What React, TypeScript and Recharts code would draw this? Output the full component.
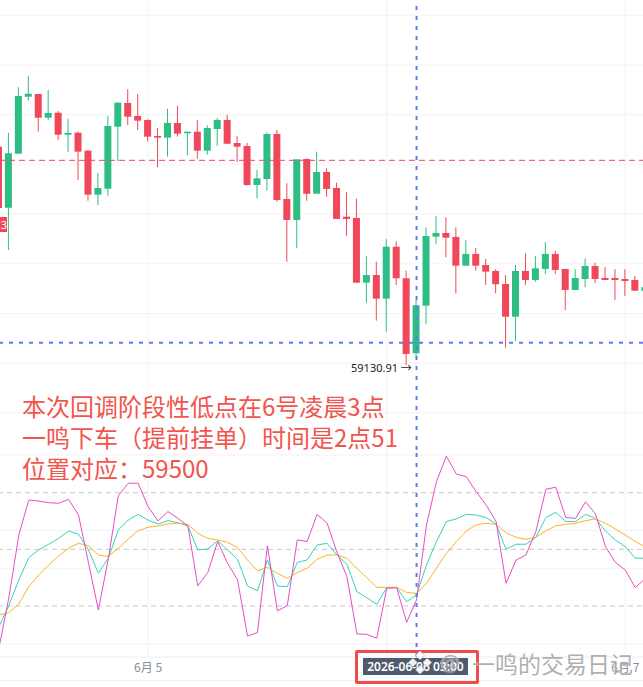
import {
  Bar,
  CartesianGrid,
  ComposedChart,
  Line,
  LineChart,
  ReferenceLine,
  XAxis,
  YAxis,
} from "recharts";

// hourly candles, index 15 = 6月5 00:00
const opens = [
  61328, 60714, 61258, 61831, 61858, 61620, 61670, 61449, 61469, 61288,
  60845, 60906, 61529, 61768, 61637, 61597, 61436, 61419, 61567, 61463,
  61479, 61288, 61506, 61597, 61365, 61335, 60943, 61003, 61456, 60802,
  60591, 61204, 60855, 61074, 60913, 60624, 60611, 59960, 60037, 59799,
  60322, 60004, 59250, 59729, 60423, 60460, 60420, 60131, 60249, 60138,
  60078, 59947, 59618, 60078, 59987, 60098, 60249, 60098, 59887, 59997,
  60128, 60007, 60007, 59997, 59987, 59879,
];
const highs = [
  61328, 61469, 61926, 62039, 61858, 61899, 61687, 61607, 61479, 61295,
  61061, 61637, 61778, 61906, 61858, 61604, 61516, 61710, 61741, 61479,
  61594, 61543, 61617, 61647, 61436, 61368, 61094, 61473, 61496, 60960,
  61201, 61211, 61278, 61111, 60966, 60869, 60805, 60229, 60171, 60397,
  60376, 60081, 59793, 60517, 60631, 60618, 60517, 60390, 60309, 60198,
  60095, 60037, 60138, 60256, 60229, 60369, 60279, 60098, 60095, 60205,
  60161, 60118, 60095, 60095, 60027, 59914,
];
const lows = [
  60711, 60289, 61258, 61791, 61479, 61597, 61396, 61275, 60993, 60785,
  60739, 60835, 61184, 61546, 61496, 61382, 61121, 61228, 61429, 61242,
  61204, 61248, 61338, 61352, 61177, 60936, 60809, 60886, 60775, 60171,
  60306, 60785, 60855, 60825, 60601, 60430, 59960, 59759, 59578, 59467,
  59937, 59130.91, 59199, 59545, 60346, 60216, 59853, 60131, 60081, 59937,
  59853, 59306, 59373, 59937, 59970, 60048, 60048, 59685, 59887, 59914,
  59954, 59987, 59786, 59826, 59879, 59879,
];
const closes = [
  60711, 61262, 61838, 61861, 61620, 61667, 61449, 61466, 61278, 60845,
  60913, 61536, 61771, 61630, 61590, 61429, 61419, 61567, 61459, 61479,
  61288, 61516, 61597, 61358, 61328, 60943, 61010, 61456, 60792, 60591,
  61201, 60855, 61074, 60903, 60601, 60601, 59960, 60037, 59799, 60322,
  60004, 59243, 59733, 60430, 60460, 60413, 60131, 60249, 60131, 60071,
  59944, 59618, 60078, 59987, 60105, 60249, 60088, 59887, 60007, 60128,
  59997, 59987, 59987, 59977, 59879, 59914,
];

// KDJ
const kLine = [
  9.0, 20.3, 33.8, 45.6, 49.7, 52.7, 55.8, 59.7, 58.0, 49.7,
  37.4, 45.3, 60.2, 65.5, 68.5, 65.5, 63.4, 65.2, 64.1, 62.4,
  49.7, 50.2, 54.6, 49.7, 44.7, 30.6, 28.0, 44.4, 30.6, 30.2,
  43.1, 44.4, 52.3, 53.2, 47.0, 42.1, 27.6, 24.4, 20.9, 29.7,
  29.7, 22.3, 25.8, 41.7, 54.1, 64.7, 66.1, 68.5, 68.2, 66.8,
  63.4, 50.0, 52.7, 52.7, 56.4, 66.8, 69.6, 64.7, 64.7, 68.5,
  66.4, 59.7, 54.9, 51.4, 45.3, 45.3,
];
const dLine = [
  15.2, 16.5, 21.1, 30.2, 36.4, 41.7, 46.5, 50.6, 53.2, 52.0,
  47.0, 46.2, 50.6, 55.4, 59.9, 61.7, 62.4, 63.4, 63.8, 63.2,
  58.5, 55.8, 55.0, 53.7, 50.9, 44.4, 38.6, 40.5, 37.3, 34.7,
  37.7, 40.0, 44.7, 47.0, 47.0, 45.2, 39.9, 35.0, 29.9, 29.9,
  29.9, 27.2, 26.7, 32.0, 40.0, 47.9, 54.1, 59.7, 62.9, 63.8,
  63.2, 58.8, 56.4, 55.3, 56.4, 59.7, 62.5, 63.2, 63.8, 65.2,
  66.1, 63.8, 60.8, 57.6, 54.1, 51.4,
];
const jLine = [
  -2.2, 24.5, 57.6, 76.1, 75.6, 74.7, 74.4, 76.5, 68.2, 43.0,
  17.9, 45.0, 78.3, 85.0, 85.0, 72.6, 65.0, 70.0, 66.4, 62.4,
  30.6, 37.7, 54.1, 42.6, 33.8, 4.1, 5.9, 51.9, 17.4, 20.2,
  55.0, 54.1, 68.5, 63.9, 48.4, 35.5, 5.2, 5.0, 2.9, 29.4,
  29.7, 11.4, 23.2, 62.9, 85.8, 99.4, 89.9, 88.5, 80.5, 73.5,
  64.7, 32.0, 44.3, 47.0, 59.4, 81.8, 82.9, 66.9, 66.4, 75.2,
  68.7, 51.4, 43.1, 39.0, 29.7, 34.6,
];

const dayGrid = [15, 39, 63];
// 6月 6 sits under the crosshair time box
const dayTicks = [15, 63];
const dayLabels = ["6月 5", "6月 7"];
const priceGrid = [62650, 62150, 61650, 61150, 60650, 60150, 59650, 59150, 58650];
const kdjGrid = [0, 40, 60, 100];
const kdjLevels = [20, 50, 80];
const crossIndex = 42;
const crossPrice = 59356;
const redLinePrice = 61191;

const GREEN = "#2ebd85";
const RED = "#f0475a";
const BLUE = "#5b7cf5";
// chart is a bit wider than the page so the first / last candle get cut like the original
const CHART_LEFT = -10.64;
const CHART_W = 666.2;
const X_DOMAIN: [number, number] = [-1, 66];

const rows = opens.map((o, i) => ({
  i,
  open: o,
  high: highs[i],
  low: lows[i],
  close: closes[i],
  range: [lows[i], highs[i]],
  k: kLine[i],
  d: dLine[i],
  j: jLine[i],
}));

function Candle(props: any) {
  const { x, y, width, height, payload } = props;
  if (x == null || y == null) return null;
  const { open, close, high, low } = payload;
  const color = close >= open ? GREEN : RED;
  const ratio = height / (high - low || 1);
  const yOf = (v: number) => y + (high - v) * ratio;
  const cx = x + width / 2;
  const top = yOf(Math.max(open, close));
  const bottom = yOf(Math.min(open, close));
  return (
    <g>
      <line x1={cx} x2={cx} y1={y} y2={y + height} stroke={color} strokeWidth={1} />
      <rect x={x} y={top} width={width} height={Math.max(1, bottom - top)} fill={color} />
    </g>
  );
}

export default function App() {
  return (
    <div
      style={{
        position: "fixed",
        left: 0,
        top: 0,
        width: 643,
        height: 687,
        overflow: "hidden",
        background: "#fff",
        fontFamily: "'Noto Sans', 'Noto Sans CJK SC', sans-serif",
      }}
    >
      <div style={{ position: "absolute", left: CHART_LEFT, top: 0 }}>
        <ComposedChart width={CHART_W} height={450} data={rows} margin={{ top: 0, right: 0, bottom: 0, left: 0 }}>
          <CartesianGrid stroke="#f3f3f3" horizontalValues={priceGrid} verticalValues={dayGrid} />
          <XAxis dataKey="i" type="number" domain={X_DOMAIN} hide />
          <YAxis type="number" domain={[58276.7, 62803.9]} allowDataOverflow hide />
          <Bar dataKey="range" barSize={7} shape={<Candle />} isAnimationActive={false} />
          <ReferenceLine y={redLinePrice} stroke={RED} strokeDasharray="6 4" strokeWidth={1} />
          <ReferenceLine y={crossPrice} stroke={BLUE} strokeDasharray="4 6" strokeWidth={2} />
          <ReferenceLine x={crossIndex} stroke={BLUE} strokeDasharray="4 6" strokeWidth={2} />
        </ComposedChart>
      </div>

      <div style={{ position: "absolute", left: CHART_LEFT, top: 450 }}>
        <LineChart width={CHART_W} height={237} data={rows} margin={{ top: 0, right: 0, bottom: 0, left: 0 }}>
          <CartesianGrid stroke="#f2f2f2" horizontalValues={kdjGrid} verticalValues={dayGrid} />
          <XAxis
            dataKey="i"
            type="number"
            domain={X_DOMAIN}
            ticks={dayTicks}
            tickFormatter={(v: number) => dayLabels[dayTicks.indexOf(v)]}
            height={30}
            tickLine={false}
            tickSize={0}
            tickMargin={6}
            axisLine={{ stroke: "#ededed" }}
            tick={{ fill: "#848e9c", fontSize: 12, fontFamily: "'Noto Sans CJK SC', sans-serif" }}
          />
          <YAxis type="number" domain={[-7, 102.6]} allowDataOverflow hide />
          {kdjLevels.map((v) => (
            <ReferenceLine key={v} y={v} stroke="#c8c8c8" strokeDasharray="5 4" />
          ))}
          <Line dataKey="k" stroke="#36d3b2" strokeWidth={1} dot={false} isAnimationActive={false} />
          <Line dataKey="d" stroke="#f7b322" strokeWidth={1} dot={false} isAnimationActive={false} />
          <Line dataKey="j" stroke="#e64bc6" strokeWidth={1} dot={false} isAnimationActive={false} />
          <ReferenceLine x={crossIndex} stroke={BLUE} strokeDasharray="4 6" strokeWidth={2} />
        </LineChart>
      </div>

      <div style={{ position: "absolute", left: 0, top: 680, width: 643, height: 1, background: "#f0f0f0" }} />

      <div
        style={{
          position: "absolute",
          left: -2,
          top: 217,
          width: 9,
          height: 15,
          background: RED,
          color: "#fff",
          fontSize: 11,
          lineHeight: "15px",
          textAlign: "right",
        }}
      >
        3
      </div>

      <div style={{ position: "absolute", left: 351, top: 359, fontSize: 11, color: "#1e2329", whiteSpace: "nowrap" }}>
        59130.91 →
      </div>

      <div
        style={{
          position: "absolute",
          left: 22,
          top: 391,
          fontFamily: "'Noto Sans CJK SC', sans-serif",
          fontSize: 24,
          lineHeight: "30.8px",
          color: "#f2544e",
          whiteSpace: "nowrap",
        }}
      >
        <div>本次回调阶段性低点在6号凌晨3点</div>
        <div>一鸣下车（提前挂单）时间是2点51</div>
        <div>位置对应：59500</div>
      </div>

      <div
        style={{
          position: "absolute",
          left: 363,
          top: 658,
          width: 105,
          height: 17,
          background: "#4e5b6e",
          color: "#fff",
          fontSize: 12,
          fontWeight: 600,
          lineHeight: "17px",
          textAlign: "center",
          whiteSpace: "nowrap",
        }}
      >
        2026-06-06 03:00
      </div>
      <div
        style={{
          position: "absolute",
          left: 355,
          top: 650,
          width: 124,
          height: 34,
          border: "3px solid #f04a4a",
          borderRadius: 2,
          boxSizing: "border-box",
        }}
      />
      <div
        style={{
          position: "absolute",
          left: 408,
          top: 643,
          fontSize: 24,
          color: "#fff",
          textShadow: "0 0 1px #888, 0 0 1px #888",
          opacity: 0.9,
        }}
      >
        ❖
      </div>
      <div
        style={{
          position: "absolute",
          left: 440,
          top: 647,
          fontSize: 22,
          color: "rgba(140,140,140,0.7)",
          textShadow: "0 0 2px #fff",
        }}
      >
        @
      </div>
      <div
        style={{
          position: "absolute",
          left: 472,
          top: 646,
          fontFamily: "'Noto Sans CJK SC', sans-serif",
          fontSize: 23,
          color: "rgba(140,140,140,0.7)",
          textShadow: "0 0 2px #fff",
          whiteSpace: "nowrap",
        }}
      >
        一鸣的交易日记
      </div>
    </div>
  );
}
